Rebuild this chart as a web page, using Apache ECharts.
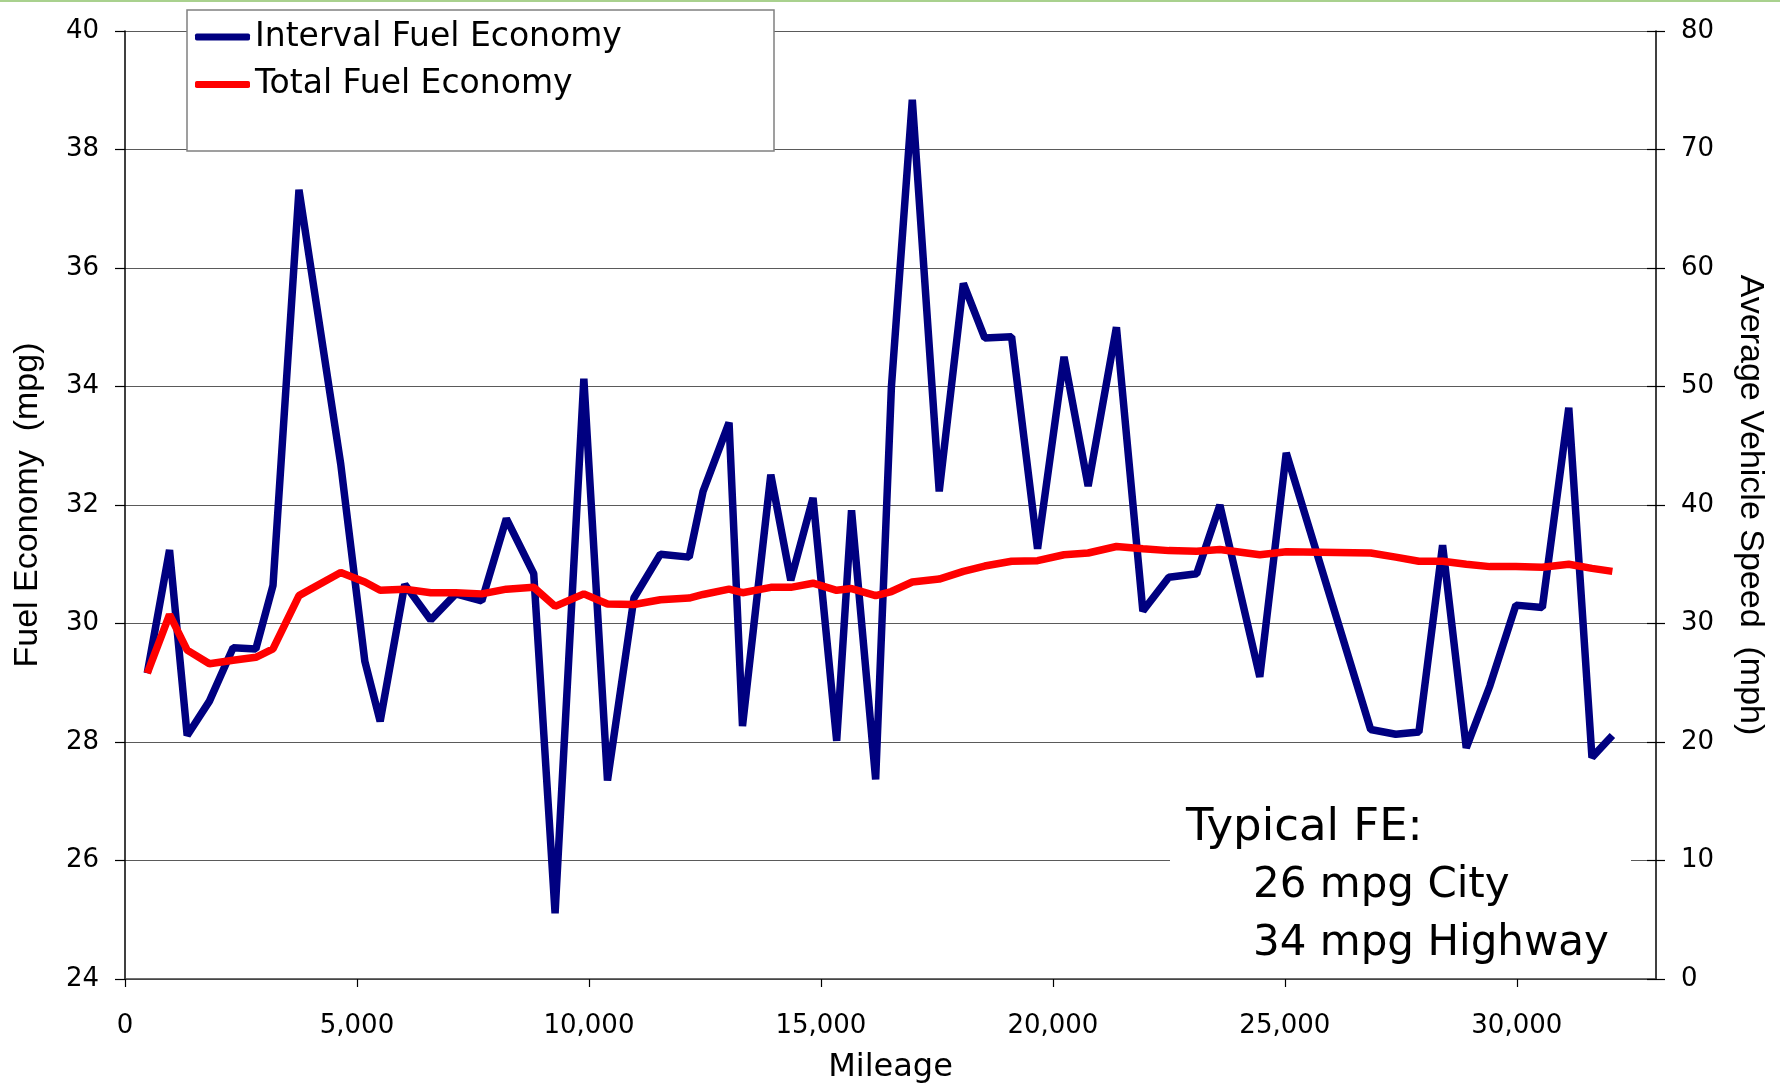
<!DOCTYPE html>
<html>
<head>
<meta charset="utf-8">
<script src="https://cdn.jsdelivr.net/npm/echarts@6/dist/echarts.min.js"></script>
<style>
html, body { margin: 0; padding: 0; background: #fff; }
#main { width: 1780px; height: 1083px; }
</style>
</head>
<body>
<div id="main"></div>
<script>
// odometer reading of each fill-up (miles)
var mileage = [480, 960, 1340, 1820, 2330, 2820, 3190, 3750, 4650, 5170,
    5500, 6030, 6590, 7130, 7690, 8220, 8810, 9270, 9890, 10400,
    10970, 11540, 12160, 12460, 13020, 13310, 13920, 14350, 14830, 15340,
    15660, 16180, 16520, 16970, 17550, 18070, 18530, 19110, 19670, 20240,
    20760, 21370, 21940, 22500, 23100, 23600, 24460, 25030, 26850, 27390,
    27890, 28400, 28910, 29420, 29980, 30550, 31120, 31620, 32060];

// mpg for each tank
var intervalFE = [29.16, 31.24, 28.11, 28.69, 29.59, 29.57, 30.64, 37.32, 32.69, 29.36,
    28.35, 30.66, 30.06, 30.50, 30.38, 31.77, 30.84, 25.11, 34.13, 27.35,
    30.43, 31.17, 31.12, 32.23, 33.39, 28.27, 32.51, 30.73, 32.12, 28.02,
    31.91, 27.37, 34.00, 38.84, 32.23, 35.74, 34.82, 34.84, 31.26, 34.50,
    32.32, 35.00, 30.21, 30.78, 30.84, 32.00, 29.10, 32.88, 28.21, 28.13,
    28.17, 31.32, 27.90, 28.95, 30.31, 30.27, 33.64, 27.74, 28.11];

// running mpg since new
var totalFE = [29.16, 30.15, 29.55, 29.32, 29.38, 29.43, 29.57, 30.47, 30.86, 30.70,
    30.56, 30.58, 30.52, 30.52, 30.50, 30.58, 30.61, 30.29, 30.50, 30.33,
    30.32, 30.40, 30.43, 30.49, 30.58, 30.52, 30.61, 30.61, 30.68, 30.56,
    30.59, 30.47, 30.54, 30.70, 30.75, 30.88, 30.97, 31.05, 31.06, 31.16,
    31.19, 31.30, 31.26, 31.23, 31.22, 31.25, 31.16, 31.21, 31.19, 31.12,
    31.05, 31.05, 31.00, 30.96, 30.96, 30.95, 31.00, 30.93, 30.88];

var seriesNames = ['Interval Fuel Economy', 'Total Fuel Economy'];
var mileageAxis = [0, 33000, 5000];   // min, max, step
var fuelAxis = [24, 40, 2];
var speedAxis = [0, 80, 10];
var noteLines = ['Typical FE:', '26 mpg City', '34 mpg Highway'];

var intervalData = [], totalData = [];
for (var i = 0; i < mileage.length; i++) {
    intervalData.push([mileage[i], intervalFE[i]]);
    totalData.push([mileage[i], totalFE[i]]);
}

var tickFont = { fontFamily: 'DejaVu Sans', fontSize: 26, color: '#000' };
var titleFont = { fontFamily: 'Liberation Sans', fontSize: 34, color: '#000' };

var myChart = echarts.init(document.getElementById('main'));

var option = {
    backgroundColor: '#fff',
    animation: false,
    grid: { left: 125, right: 124, top: 31, bottom: 104, outerBoundsMode: 'none' },
    legend: {
        data: seriesNames,
        orient: 'vertical',
        left: 195,
        top: 20,
        padding: 0,
        itemGap: 13.5,
        itemWidth: 55,
        itemHeight: 7,
        icon: 'roundRect',
        z: 6,
        textStyle: { fontFamily: 'DejaVu Sans', fontSize: 33, lineHeight: 34, color: '#000' }
    },
    xAxis: {
        type: 'value',
        min: mileageAxis[0],
        max: mileageAxis[1],
        interval: mileageAxis[2],
        name: 'Mileage',
        nameLocation: 'middle',
        nameGap: 73,
        nameTextStyle: { fontFamily: 'DejaVu Sans', fontSize: 32, color: '#000' },
        axisLine: { lineStyle: { color: '#404040', width: 1.5 } },
        axisTick: { length: 8, lineStyle: { color: '#000', width: 1.2 } },
        axisLabel: {
            margin: 34,
            showMaxLabel: false,
            fontFamily: tickFont.fontFamily, fontSize: tickFont.fontSize, color: tickFont.color,
            formatter: function (v) { return v.toLocaleString('en-US'); }
        },
        splitLine: { show: false }
    },
    yAxis: [
        {
            type: 'value',
            position: 'left',
            min: fuelAxis[0],
            max: fuelAxis[1],
            interval: fuelAxis[2],
            name: 'Fuel Economy  (mpg)',
            nameLocation: 'middle',
            nameRotate: 90,
            nameGap: 80,
            nameTextStyle: titleFont,
            axisLine: { show: true, lineStyle: { color: '#000', width: 1.5 } },
            axisTick: { show: true, length: 10, lineStyle: { color: '#000', width: 1.2 } },
            axisLabel: { margin: 26, fontFamily: tickFont.fontFamily, fontSize: tickFont.fontSize, color: tickFont.color },
            splitLine: { show: true, lineStyle: { color: '#5a5a5a', width: 1.2 } }
        },
        {
            type: 'value',
            position: 'right',
            min: speedAxis[0],
            max: speedAxis[1],
            interval: speedAxis[2],
            name: 'Average Vehicle Speed  (mph)',
            nameLocation: 'middle',
            nameRotate: -90,
            nameGap: 77,
            nameTextStyle: titleFont,
            axisLine: { show: true, lineStyle: { color: '#000', width: 1.5 } },
            axisTick: { show: true, length: 9, lineStyle: { color: '#000', width: 1.2 } },
            axisLabel: { margin: 25, fontFamily: tickFont.fontFamily, fontSize: tickFont.fontSize, color: tickFont.color },
            splitLine: { show: false }
        },
        {
            // inner half of the crossing ticks on the right axis
            type: 'value',
            position: 'right',
            min: speedAxis[0],
            max: speedAxis[1],
            interval: speedAxis[2],
            axisLine: { show: false },
            axisTick: { show: true, inside: true, length: 9, lineStyle: { color: '#000', width: 1.2 } },
            axisLabel: { show: false },
            splitLine: { show: false }
        }
    ],
    graphic: [
        { type: 'rect', shape: { x: 0, y: 0, width: 1780, height: 2 }, style: { fill: '#a9d18e' }, z: 1 },
        // legend frame
        { type: 'rect', shape: { x: 187, y: 10, width: 587, height: 141 },
          style: { fill: '#fff', stroke: '#808080', lineWidth: 1.5 }, z: 3 },
        // note box
        { type: 'rect', shape: { x: 1170, y: 780, width: 461, height: 192 }, style: { fill: '#fff' }, z: 3 },
        { type: 'text', x: 1186, y: 828, z: 5,
          style: { text: noteLines[0], fill: '#000', font: '45px "DejaVu Sans"', verticalAlign: 'middle', align: 'left' } },
        { type: 'text', x: 1253, y: 886, z: 5,
          style: { text: noteLines[1], fill: '#000', font: '42px "DejaVu Sans"', verticalAlign: 'middle', align: 'left' } },
        { type: 'text', x: 1253, y: 944, z: 5,
          style: { text: noteLines[2], fill: '#000', font: '42px "DejaVu Sans"', verticalAlign: 'middle', align: 'left' } }
    ],
    series: [
        {
            name: seriesNames[0],
            type: 'line',
            yAxisIndex: 0,
            data: intervalData,
            symbol: 'none',
            color: '#000080',
            lineStyle: { color: '#000080', width: 7.5 },
            z: 2
        },
        {
            name: seriesNames[1],
            type: 'line',
            yAxisIndex: 0,
            data: totalData,
            symbol: 'none',
            color: '#ff0000',
            lineStyle: { color: '#ff0000', width: 7.5 },
            z: 2
        }
    ]
};

myChart.setOption(option);
</script>
</body>
</html>
